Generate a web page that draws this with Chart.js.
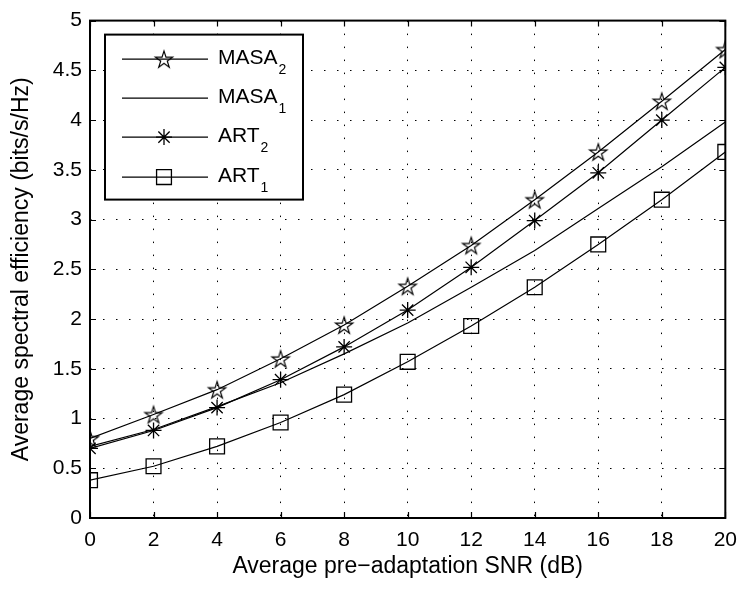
<!DOCTYPE html>
<html><head><meta charset="utf-8">
<script src="https://cdn.jsdelivr.net/npm/chart.js@4.4.0/dist/chart.umd.min.js"></script>
<style>html,body{margin:0;padding:0;background:#fff;}#wrap{width:747px;height:591px;}</style>
</head><body><div id="wrap"><canvas id="c" width="747" height="591"></canvas></div>
<script>
// ---- data ----
const snr = [0, 2, 4, 6, 8, 10, 12, 14, 16, 18, 20];
const masa2 = [0.80, 1.04, 1.29, 1.60, 1.94, 2.33, 2.74, 3.20, 3.68, 4.19, 4.71];
const masa1 = [0.72, 0.89, 1.12, 1.36, 1.65, 1.96, 2.32, 2.69, 3.11, 3.53, 3.98];
const art2  = [0.70, 0.88, 1.11, 1.39, 1.72, 2.09, 2.52, 2.99, 3.47, 4.00, 4.53];
const art1  = [0.38, 0.52, 0.72, 0.96, 1.24, 1.57, 1.93, 2.32, 2.75, 3.20, 3.68];
const xTicks = [0, 2, 4, 6, 8, 10, 12, 14, 16, 18, 20];
const yTicks = [0, 0.5, 1, 1.5, 2, 2.5, 3, 3.5, 4, 4.5, 5];
const seriesNames = ['MASA', 'MASA', 'ART', 'ART'];
const seriesSubs = ['2', '1', '2', '1'];
const xTitle = 'Average pre\u2212adaptation SNR (dB)';
const yTitle = 'Average spectral efficiency (bits/s/Hz)';

const FONT = '"Liberation Sans", Arial, Helvetica, sans-serif';

function pentagram(R, lw) {
  const s = Math.ceil(R * 2 + 4);
  const c = document.createElement('canvas');
  c.width = s; c.height = s;
  const g = c.getContext('2d');
  g.translate(s / 2, s / 2 + R * 0.1);
  g.beginPath();
  for (let i = 0; i < 10; i++) {
    const a = -Math.PI / 2 + i * Math.PI / 5;
    const r = i % 2 === 0 ? R : R * 0.382;
    const x = r * Math.cos(a), y = r * Math.sin(a);
    if (i === 0) g.moveTo(x, y); else g.lineTo(x, y);
  }
  g.closePath();
  g.lineWidth = lw; g.strokeStyle = '#000'; g.stroke();
  return c;
}
const starImg = pentagram(9, 1.2);

function pts(ys) { return snr.map((x, i) => ({x: x, y: ys[i]})); }

const styles = [
  {pointStyle: starImg, pointRadius: 9},
  {pointStyle: 'circle', pointRadius: 0},
  {pointStyle: 'star', pointRadius: 8},
  {pointStyle: 'rect', pointRadius: 10.5}
];
const seriesData = [masa2, masa1, art2, art1];

const datasets = seriesData.map((d, i) => ({
  label: seriesNames[i] + seriesSubs[i],
  data: pts(d),
  borderColor: '#000',
  borderWidth: 1.2,
  backgroundColor: 'rgba(0,0,0,0)',
  pointBorderColor: '#000',
  pointBackgroundColor: 'rgba(0,0,0,0)',
  pointBorderWidth: 1.3,
  pointStyle: styles[i].pointStyle,
  pointRadius: styles[i].pointRadius,
  tension: 0,
  fill: false
}));

const boxPlugin = {
  id: 'boxPlugin',
  afterDatasetsDraw(chart) {
    const ctx = chart.ctx, ca = chart.chartArea;
    const xs = chart.scales.x, ys = chart.scales.y;
    ctx.save();
    ctx.strokeStyle = '#000';
    // inner ticks
    ctx.lineWidth = 1.2;
    const tl = 6;
    ctx.beginPath();
    xTicks.forEach(v => {
      const px = Math.round(xs.getPixelForValue(v)) + 0.5;
      ctx.moveTo(px, ca.bottom); ctx.lineTo(px, ca.bottom - tl);
      ctx.moveTo(px, ca.top); ctx.lineTo(px, ca.top + tl);
    });
    yTicks.forEach(v => {
      const py = Math.round(ys.getPixelForValue(v)) + 0.5;
      ctx.moveTo(ca.left, py); ctx.lineTo(ca.left + tl, py);
      ctx.moveTo(ca.right, py); ctx.lineTo(ca.right - tl, py);
    });
    ctx.stroke();
    // box
    ctx.lineWidth = 2;
    ctx.strokeRect(ca.left, ca.top, ca.right - ca.left, ca.bottom - ca.top);

    // legend
    const L = ca.left + 15, T = ca.top + 14, W = 198, H = 165;
    ctx.fillStyle = '#fff';
    ctx.fillRect(L, T, W, H);
    ctx.lineWidth = 2;
    ctx.strokeRect(L, T, W, H);
    const offs = [24, 63, 102, 142];
    for (let i = 0; i < 4; i++) {
      const y = T + offs[i];
      ctx.lineWidth = 1.2;
      ctx.strokeStyle = '#000';
      ctx.beginPath();
      ctx.moveTo(L + 17, y + 0.5); ctx.lineTo(L + 103, y + 0.5);
      ctx.stroke();
      if (styles[i].pointRadius > 0) {
        ctx.fillStyle = 'rgba(0,0,0,0)';
        ctx.strokeStyle = '#000';
        ctx.lineWidth = 1.3;
        Chart.helpers.drawPoint(ctx, {
          pointStyle: styles[i].pointStyle,
          radius: styles[i].pointRadius,
          borderWidth: 1.3,
          rotation: 0
        }, L + 59, y + 0.5);
      }
      ctx.fillStyle = '#000';
      ctx.textBaseline = 'alphabetic';
      ctx.textAlign = 'left';
      ctx.font = '21px ' + FONT;
      const tx = L + 113;
      ctx.fillText(seriesNames[i], tx, y + 5);
      const w = ctx.measureText(seriesNames[i]).width;
      ctx.font = '14px ' + FONT;
      ctx.fillText(seriesSubs[i], tx + w + 1, y + 15);
    }
    ctx.restore();
  }
};

new Chart(document.getElementById('c'), {
  type: 'line',
  data: {datasets: datasets},
  plugins: [boxPlugin],
  options: {
    responsive: false,
    animation: false,
    events: [],
    devicePixelRatio: 1,
    layout: {padding: {top: 14, right: 17, left: 0, bottom: 0}},
    plugins: {legend: {display: false}, tooltip: {enabled: false}},
    scales: {
      x: {
        type: 'linear', min: 0, max: 20,
        afterBuildTicks: s => { s.ticks = xTicks.map(v => ({value: v})); },
        afterFit: s => { s.height = 73; },
        ticks: {color: '#000', font: {family: FONT, size: 21}, padding: 10, maxRotation: 0, autoSkip: false},
        grid: {color: '#000', lineWidth: 1, drawTicks: false},
        border: {display: false, dash: [1.5, 11.5]},
        title: {display: true, text: xTitle, color: '#000', font: {family: FONT, size: 23}, padding: {top: 0, bottom: 11}}
      },
      y: {
        type: 'linear', min: 0, max: 5,
        afterBuildTicks: s => { s.ticks = yTicks.map(v => ({value: v})); },
        afterFit: s => { s.width = 90; },
        ticks: {color: '#000', font: {family: FONT, size: 21}, padding: 8, autoSkip: false, callback: v => String(v)},
        grid: {color: '#000', lineWidth: 1, drawTicks: false},
        border: {display: false, dash: [1.5, 11.5]},
        title: {display: true, text: yTitle, color: '#000', font: {family: FONT, size: 23}, padding: {top: 8, bottom: 0}}
      }
    }
  }
});
</script></body></html>
